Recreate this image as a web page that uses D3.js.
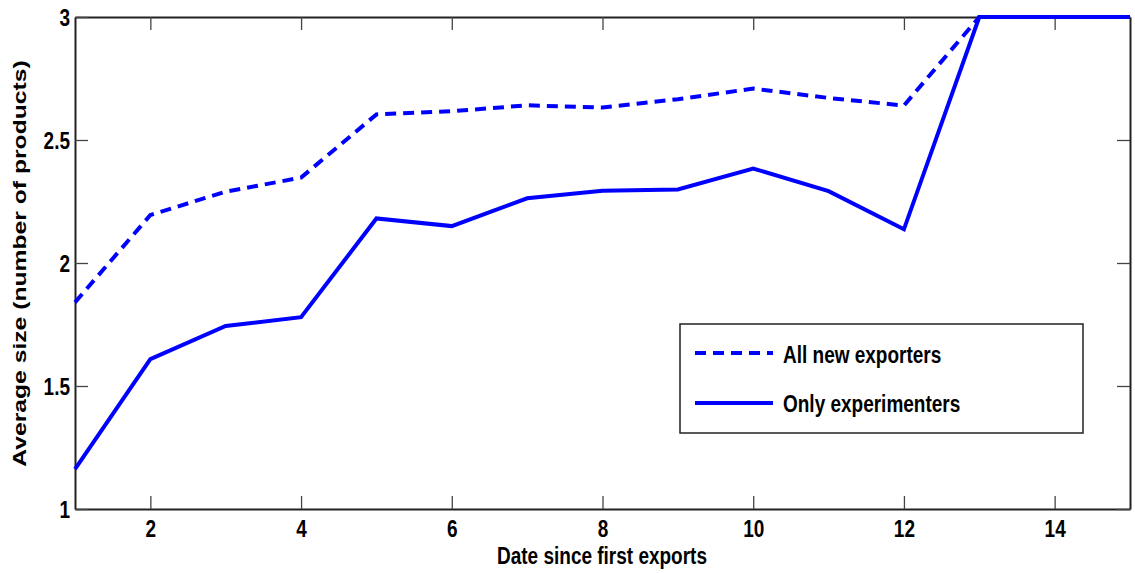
<!DOCTYPE html>
<html>
<head>
<meta charset="utf-8">
<script src="https://cdn.jsdelivr.net/npm/d3@7"></script>
<style>
  body { margin: 0; background: #fff; }
  text { font-family: "Liberation Sans", Arial, Helvetica, sans-serif; font-weight: bold; fill: #000; }
</style>
</head>
<body>
<svg id="chart" width="1135" height="573"></svg>
<script>
// Periods since first export
const dates = [1, 2, 3, 4, 5, 6, 7, 8, 9, 10, 11, 12, 13, 14, 15];
// Average number of products per firm
const allNewExporters = [1.84, 2.195, 2.29, 2.347, 2.604, 2.617, 2.641, 2.632, 2.666, 2.709, 2.671, 2.640, 3, 3, 3];
const onlyExperimenters = [1.162, 1.609, 1.744, 1.780, 2.181, 2.150, 2.263, 2.294, 2.299, 2.384, 2.292, 2.137, 3, 3, 3];
const xTicks = [2, 4, 6, 8, 10, 12, 14];
const yTicks = [1, 1.5, 2, 2.5, 3];
const seriesNames = ["All new exporters", "Only experimenters"];

const svg = d3.select("#chart");
const m = { left: 75, right: 1130, top: 17, bottom: 509 };

const x = d3.scaleLinear().domain([1, 15]).range([m.left, m.right]);
const y = d3.scaleLinear().domain([1, 3]).range([m.bottom, m.top]);

const tickLen = 13;
const axisColor = "#222";
const fontSize = 19;
const stretch = 1.3;   // tall, narrow lettering

// Axes with inward ticks on all four sides
const gx = svg.append("g").attr("transform", `translate(0,${m.bottom})`)
  .call(d3.axisBottom(x).tickValues(xTicks).tickFormat(d3.format("d")).tickSizeInner(-tickLen).tickSizeOuter(0));
const gxTop = svg.append("g").attr("transform", `translate(0,${m.top})`)
  .call(d3.axisTop(x).tickValues(xTicks).tickFormat("").tickSizeInner(-tickLen).tickSizeOuter(0));
const gy = svg.append("g").attr("transform", `translate(${m.left},0)`)
  .call(d3.axisLeft(y).tickValues(yTicks).tickFormat(d => d).tickSizeInner(-tickLen).tickSizeOuter(0));
const gyRight = svg.append("g").attr("transform", `translate(${m.right},0)`)
  .call(d3.axisRight(y).tickValues(yTicks).tickFormat("").tickSizeInner(-tickLen).tickSizeOuter(0));

[gx, gxTop, gy, gyRight].forEach(g => {
  g.select(".domain").attr("stroke", axisColor).attr("stroke-width", 2);
  g.selectAll(".tick line").attr("stroke", "#444").attr("stroke-width", 1.3);
  g.selectAll(".tick text").style("font-size", fontSize + "px").attr("fill", "#000")
    .attr("x", 0).attr("y", 0).attr("dy", null);
});
gx.selectAll(".tick text").attr("transform", `translate(0,27.5) scale(1,${stretch})`);
gy.selectAll(".tick text").attr("transform", `translate(-5,8.5) scale(1,${stretch})`);

// Lines
const line = d3.line().x((d, i) => x(dates[i])).y(d => y(d));
svg.append("path").datum(allNewExporters)
  .attr("fill", "none").attr("stroke", "#0000ff").attr("stroke-width", 4)
  .attr("stroke-dasharray", "11,7").attr("d", line);
svg.append("path").datum(onlyExperimenters)
  .attr("fill", "none").attr("stroke", "#0000ff").attr("stroke-width", 4)
  .attr("stroke-linejoin", "miter").attr("d", line);

// Axis titles
svg.append("text").attr("transform", `translate(602,564) scale(1,${stretch})`).attr("text-anchor", "middle")
  .style("font-size", fontSize + "px").text("Date since first exports");
svg.append("text").attr("transform", `translate(26,263.5) scale(1,${stretch}) rotate(-90)`).attr("text-anchor", "middle")
  .style("font-size", fontSize + "px")
  .text("Average size (number of products)");

// Legend
const lg = svg.append("g");
lg.append("rect").attr("x", 680).attr("y", 324).attr("width", 403).attr("height", 109)
  .attr("fill", "#fff").attr("stroke", "#222").attr("stroke-width", 1.5);
const rows = [
  { name: seriesNames[0], dash: "11,7", yy: 353, base: 362.5 },
  { name: seriesNames[1], dash: null, yy: 403, base: 411.5 }
];
rows.forEach(r => {
  lg.append("line").attr("x1", 695).attr("x2", 773).attr("y1", r.yy).attr("y2", r.yy)
    .attr("stroke", "#0000ff").attr("stroke-width", 4).attr("stroke-dasharray", r.dash);
  lg.append("text").attr("transform", `translate(783,${r.base}) scale(1,${stretch})`)
    .style("font-size", fontSize + "px").text(r.name);
});
</script>
</body>
</html>
